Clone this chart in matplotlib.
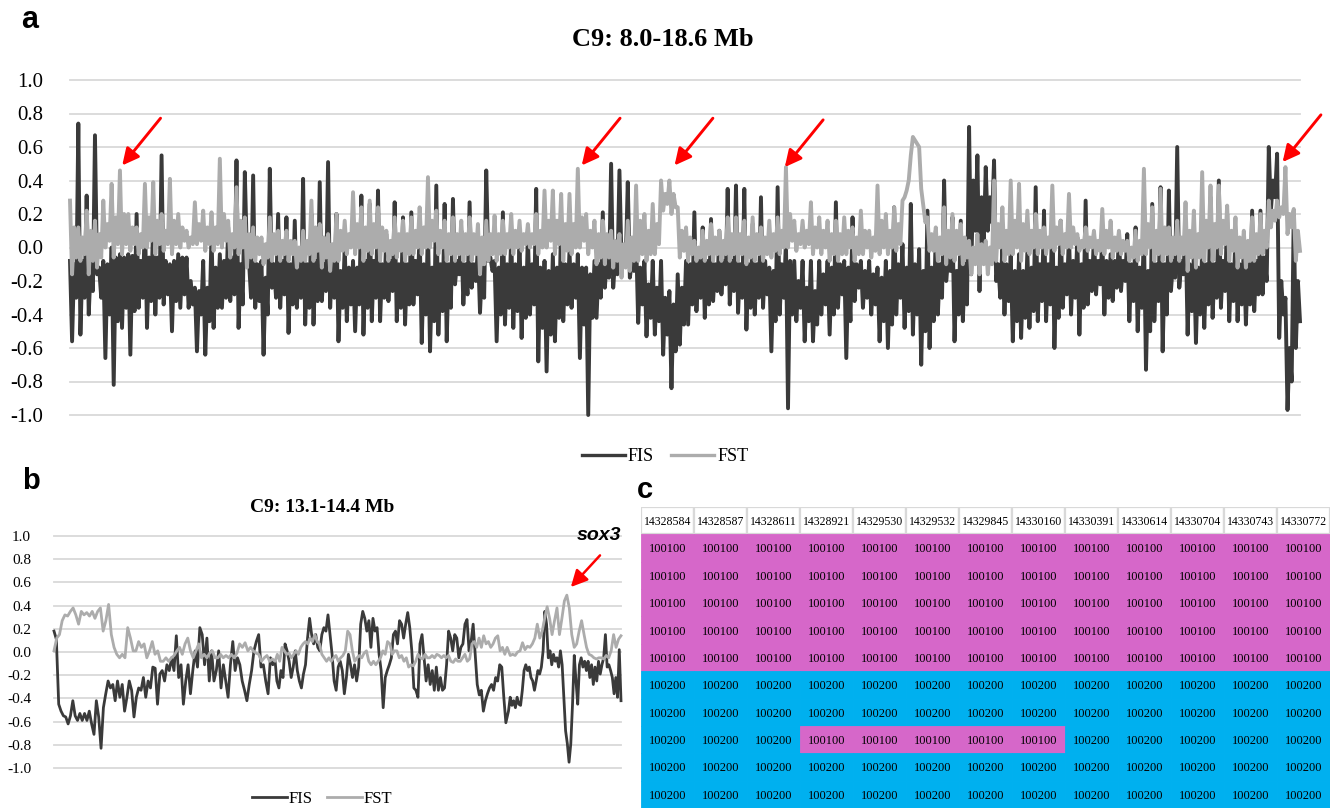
import numpy as np
import matplotlib
matplotlib.use("Agg")
import matplotlib.pyplot as plt
from matplotlib.patches import Rectangle
from matplotlib.lines import Line2D

# ---------------- Panel a data (C9: 8.0-18.6 Mb) ----------------
# per window (left to right): spike maximum, spike minimum, and the top / bottom
# of the dense band the trace fills inside that window
a_region = (8.0, 18.6)
a_fis_hi = [
    -0.08, 0.74, 0.31, 0.67, -0.08, 0.00, -0.04, -0.04, 0.20, 0.18, 0.18, 0.55, -0.10, -0.04, -0.06, -0.24,
    -0.08, 0.08, -0.04, 0.12, 0.52, 0.45, 0.43, -0.08, 0.47, 0.20, 0.18, 0.16, 0.41, 0.20, 0.39, 0.51,
    0.20, 0.00, -0.08, 0.31, 0.26,
    0.34, 0.08, 0.27, 0.18, 0.21, 0.10, 0.12, 0.37, 0.26, 0.29, 0.10, 0.27, 0.00, 0.46, -0.08, 0.21,
    0.08, 0.04, 0.08, 0.35, -0.08, -0.04, 0.16, -0.02, -0.04, -0.12, -0.08, 0.21, 0.50, 0.46, 0.39, 0.06,
    -0.08, -0.08, -0.08, -0.26, -0.16,
    -0.08, 0.21, 0.12, 0.17, 0.10, 0.35, 0.37, 0.35, 0.14, 0.30, -0.12, 0.36, 0.04, -0.08, -0.08, -0.08,
    -0.08, -0.08, 0.27, -0.08, 0.18, -0.08, -0.08, -0.12, -0.08, 0.24, 0.02, 0.26, -0.01, 0.22, 0.10, 0.40,
    0.18, 0.16, 0.72, 0.55, 0.48,
    0.52, 0.00, -0.04, -0.04, -0.02, 0.36, 0.22, 0.22, 0.16, 0.08, 0.06, 0.28, 0.08, 0.06, -0.04, 0.08,
    0.08, 0.12, 0.10, 0.26, 0.36, 0.34, 0.60, 0.14, -0.04, 0.00, 0.30, 0.40, 0.20, 0.10, 0.00, 0.22,
    0.22, 0.60, 0.56, -0.30, 0.22,
]
a_fis_lo = [
    -0.56, -0.52, -0.40, -0.16, -0.66, -0.82, -0.48, -0.64, -0.36, -0.48, -0.40, -0.34, -0.50, -0.36, -0.36, -0.62,
    -0.64, -0.48, -0.36, -0.32, -0.48, -0.04, -0.36, -0.64, -0.24, -0.36, -0.51, -0.36, -0.46, -0.46, -0.32, -0.36,
    -0.56, -0.44, -0.50, -0.52, -0.44,
    -0.44, -0.32, -0.44, -0.46, -0.34, -0.57, -0.62, -0.52, -0.56, -0.22, -0.34, -0.24, -0.39, -0.08, -0.56, -0.46,
    -0.48, -0.54, -0.40, -0.68, -0.74, -0.56, -0.44, -0.36, -0.66, -1.00, -0.42, -0.24, -0.24, -0.08, -0.18, -0.45,
    -0.53, -0.52, -0.64, -0.84, -0.58,
    -0.46, -0.38, -0.42, -0.32, -0.28, -0.34, -0.39, -0.49, -0.40, -0.36, -0.62, -0.40, -0.96, -0.44, -0.56, -0.56,
    -0.40, -0.52, -0.36, -0.66, -0.32, -0.36, -0.40, -0.56, -0.60, -0.40, -0.48, -0.52, -0.70, -0.60, -0.40, -0.20,
    -0.56, -0.44, -0.16, -0.26, 0.10,
    -0.20, -0.40, -0.56, -0.54, -0.48, -0.44, -0.44, -0.60, -0.36, -0.40, -0.52, -0.34, -0.28, -0.40, -0.32, -0.26,
    -0.44, -0.50, -0.73, -0.44, -0.62, -0.26, -0.24, -0.52, -0.57, -0.48, -0.42, -0.36, -0.44, -0.44, -0.46, -0.38,
    -0.28, 0.22, -0.54, -0.97, -0.60,
]
a_fis_top = [
    -0.10, -0.08, -0.10, -0.12, -0.10, -0.06, -0.06, -0.05, -0.08, -0.06, -0.06, -0.08, -0.08, -0.06, -0.20, -0.26,
    -0.24, -0.12, -0.08, -0.06, -0.10, -0.08, -0.10, -0.18, -0.10, -0.08, -0.10, -0.08, -0.10, -0.08, -0.10, -0.08,
    -0.14, -0.12, -0.12, -0.08, -0.08,
    -0.10, -0.08, -0.10, -0.10, -0.08, -0.10, -0.12, -0.10, -0.10, -0.08, -0.10, -0.10, -0.12, -0.06, -0.12, -0.10,
    -0.10, -0.12, -0.10, -0.12, -0.14, -0.12, -0.10, -0.10, -0.12, -0.16, -0.10, -0.06, -0.06, -0.06, -0.08, -0.12,
    -0.22, -0.24, -0.30, -0.34, -0.24,
    -0.10, -0.08, -0.08, -0.10, -0.08, -0.08, -0.10, -0.10, -0.10, -0.08, -0.14, -0.10, -0.08, -0.20, -0.24, -0.26,
    -0.16, -0.12, -0.10, -0.12, -0.10, -0.14, -0.16, -0.18, -0.14, -0.10, -0.12, -0.10, -0.14, -0.12, -0.10, -0.06,
    -0.14, -0.10, 0.40, 0.30, 0.30,
    -0.10, -0.10, -0.14, -0.14, -0.12, -0.10, -0.10, -0.12, -0.10, -0.08, -0.10, -0.08, -0.08, -0.08, -0.08, -0.08,
    -0.10, -0.12, -0.14, -0.10, -0.10, -0.08, -0.08, -0.10, -0.12, -0.10, -0.10, -0.08, -0.10, -0.10, -0.10, -0.08,
    -0.06, 0.40, -0.20, -0.60, -0.20,
]
a_fis_bot = [
    -0.30, -0.30, -0.26, -0.30, -0.40, -0.44, -0.36, -0.38, -0.30, -0.32, -0.30, -0.28, -0.32, -0.28, -0.34, -0.40,
    -0.44, -0.36, -0.30, -0.28, -0.34, -0.30, -0.32, -0.40, -0.30, -0.28, -0.34, -0.30, -0.36, -0.32, -0.26, -0.30,
    -0.36, -0.34, -0.34, -0.36, -0.30,
    -0.30, -0.26, -0.36, -0.34, -0.28, -0.40, -0.44, -0.38, -0.36, -0.16, -0.28, -0.20, -0.30, -0.14, -0.40, -0.36,
    -0.38, -0.42, -0.34, -0.48, -0.52, -0.42, -0.34, -0.30, -0.46, -0.42, -0.30, -0.18, -0.16, -0.10, -0.14, -0.34,
    -0.42, -0.44, -0.52, -0.62, -0.46,
    -0.34, -0.30, -0.34, -0.26, -0.22, -0.26, -0.30, -0.36, -0.30, -0.28, -0.44, -0.30, -0.40, -0.36, -0.44, -0.46,
    -0.34, -0.40, -0.28, -0.44, -0.24, -0.30, -0.34, -0.44, -0.46, -0.30, -0.38, -0.40, -0.50, -0.44, -0.30, -0.14,
    -0.40, -0.34, 0.10, 0.00, 0.15,
    -0.30, -0.32, -0.44, -0.42, -0.38, -0.32, -0.34, -0.42, -0.28, -0.30, -0.36, -0.26, -0.22, -0.30, -0.24, -0.20,
    -0.32, -0.36, -0.50, -0.32, -0.40, -0.18, -0.16, -0.38, -0.40, -0.34, -0.30, -0.26, -0.32, -0.34, -0.34, -0.28,
    -0.20, 0.30, -0.40, -0.80, -0.44,
]
a_fst_hi = [
    0.28, 0.12, 0.22, 0.16, 0.28, 0.38, 0.46, 0.20, 0.12, 0.38, 0.39, 0.20, 0.41, 0.20, 0.10, 0.27,
    0.22, 0.21, 0.53, 0.16, 0.36, 0.18, 0.12, 0.06, 0.18, 0.10, 0.10, 0.04, 0.10, 0.28, 0.14, 0.08,
    0.20, 0.16, 0.33, 0.24, 0.28,
    0.24, 0.10, 0.18, 0.16, 0.18, 0.24, 0.42, 0.22, 0.16, 0.18, 0.16, 0.18, 0.14, 0.16, 0.19, 0.16,
    0.20, 0.16, 0.14, 0.20, 0.34, 0.34, 0.32, 0.32, 0.47, 0.20, 0.16, 0.16, 0.10, 0.08, 0.16, 0.37,
    0.20, 0.26, 0.40, 0.40, 0.24,
    0.12, 0.04, 0.10, 0.14, 0.10, 0.18, 0.18, 0.16, 0.18, 0.12, 0.16, 0.18, 0.48, 0.16, 0.16, 0.27,
    0.18, 0.16, 0.16, 0.18, 0.12, 0.22, 0.10, 0.37, 0.20, 0.24, 0.28, 0.55, 0.60, 0.18, 0.12, 0.24,
    0.20, 0.14, 0.04, 0.08, 0.04,
    0.40, 0.24, 0.40, 0.38, 0.22, 0.20, 0.12, 0.37, 0.16, 0.32, 0.08, 0.12, 0.10, 0.23, 0.16, 0.10,
    0.04, 0.10, 0.47, 0.24, 0.35, 0.12, 0.16, 0.27, 0.22, 0.45, 0.37, 0.37, 0.25, 0.18, 0.10, 0.18,
    0.20, 0.28, 0.28, 0.48, 0.23,
]
a_fst_lo = [
    -0.16, -0.08, -0.16, -0.12, 0.00, -0.06, -0.04, -0.02, -0.04, 0.00, -0.04, -0.02, -0.04, 0.00, 0.00, 0.02,
    -0.02, -0.02, 0.00, -0.06, -0.04, -0.12, -0.08, -0.10, -0.08, -0.08, -0.08, -0.12, -0.08, -0.08, -0.12, -0.14,
    -0.08, -0.04, -0.04, -0.08, -0.04,
    -0.08, -0.08, -0.06, -0.08, -0.04, -0.04, 0.00, -0.04, -0.08, -0.08, -0.08, -0.08, -0.16, -0.08, -0.08, -0.04,
    -0.04, -0.02, 0.00, -0.04, 0.00, -0.04, -0.08, -0.04, 0.00, -0.04, -0.10, -0.10, -0.12, -0.18, -0.14, -0.08,
    -0.08, -0.04, 0.22, 0.20, -0.06,
    -0.08, -0.08, -0.08, -0.08, -0.08, -0.08, -0.08, -0.10, -0.08, -0.08, -0.06, -0.04, 0.00, -0.02, 0.00, -0.04,
    -0.04, -0.08, -0.08, -0.04, -0.08, -0.04, -0.06, -0.04, -0.04, -0.02, 0.30, 0.66, 0.35, -0.02, -0.08, -0.10,
    -0.08, -0.10, -0.16, -0.16, -0.16,
    -0.08, -0.08, -0.04, -0.08, -0.04, -0.04, -0.04, -0.02, -0.04, 0.00, -0.02, -0.02, -0.04, -0.04, -0.06, -0.04,
    -0.08, -0.08, -0.04, -0.08, -0.08, -0.08, -0.08, -0.14, -0.12, -0.08, -0.08, -0.04, -0.08, -0.12, -0.12, -0.08,
    -0.04, 0.12, 0.18, 0.08, -0.08,
]
a_fst_top = [
    0.12, 0.06, 0.10, 0.08, 0.14, 0.18, 0.20, 0.12, 0.08, 0.18, 0.16, 0.10, 0.16, 0.12, 0.06, 0.14,
    0.12, 0.12, 0.20, 0.08, 0.16, 0.08, 0.06, 0.02, 0.08, 0.04, 0.04, 0.00, 0.04, 0.12, 0.06, 0.02,
    0.10, 0.08, 0.14, 0.12, 0.14,
    0.12, 0.04, 0.08, 0.08, 0.10, 0.12, 0.16, 0.10, 0.08, 0.08, 0.08, 0.08, 0.06, 0.08, 0.08, 0.08,
    0.10, 0.08, 0.08, 0.10, 0.16, 0.16, 0.14, 0.14, 0.18, 0.10, 0.08, 0.08, 0.04, 0.02, 0.06, 0.16,
    0.10, 0.14, 0.32, 0.32, 0.10,
    0.06, 0.00, 0.04, 0.06, 0.04, 0.08, 0.08, 0.06, 0.08, 0.06, 0.08, 0.10, 0.20, 0.08, 0.10, 0.12,
    0.10, 0.08, 0.08, 0.10, 0.06, 0.10, 0.06, 0.16, 0.10, 0.14, 0.34, 0.64, 0.25, 0.08, 0.06, 0.10,
    0.10, 0.06, 0.00, 0.02, 0.00,
    0.14, 0.10, 0.16, 0.14, 0.10, 0.10, 0.06, 0.12, 0.08, 0.12, 0.04, 0.06, 0.04, 0.10, 0.06, 0.04,
    0.00, 0.04, 0.14, 0.10, 0.12, 0.06, 0.06, 0.10, 0.08, 0.16, 0.14, 0.16, 0.10, 0.06, 0.04, 0.08,
    0.10, 0.22, 0.24, 0.20, 0.10,
]
a_fst_bot = [
    -0.06, -0.04, -0.08, -0.06, 0.04, 0.02, 0.02, 0.02, 0.00, 0.04, 0.02, 0.02, 0.02, 0.04, 0.02, 0.04,
    0.02, 0.02, 0.04, 0.00, 0.00, -0.06, -0.04, -0.06, -0.04, -0.04, -0.04, -0.08, -0.04, -0.02, -0.06, -0.08,
    -0.02, 0.00, 0.00, -0.02, 0.00,
    -0.02, -0.04, -0.02, -0.04, 0.00, 0.00, 0.04, 0.00, -0.04, -0.04, -0.04, -0.04, -0.10, -0.04, -0.04, 0.00,
    0.00, 0.02, 0.02, 0.00, 0.04, 0.02, -0.02, 0.00, 0.04, 0.00, -0.06, -0.06, -0.08, -0.12, -0.08, -0.04,
    -0.04, 0.02, 0.26, 0.24, -0.02,
    -0.04, -0.06, -0.04, -0.04, -0.04, -0.04, -0.04, -0.06, -0.04, -0.04, -0.02, 0.00, 0.04, 0.02, 0.02, 0.00,
    0.00, -0.04, -0.04, 0.00, -0.04, 0.00, -0.02, 0.00, 0.00, 0.02, 0.40, 0.62, 0.15, -0.02, -0.04, -0.06,
    -0.04, -0.06, -0.10, -0.10, -0.10,
    0.00, -0.04, 0.00, -0.02, 0.00, 0.00, 0.00, 0.02, 0.00, 0.02, 0.00, 0.00, -0.02, 0.00, -0.02, -0.02,
    -0.06, -0.04, 0.00, -0.04, -0.04, -0.04, -0.04, -0.06, -0.06, 0.00, 0.00, 0.02, -0.02, -0.06, -0.08, -0.04,
    0.00, 0.16, 0.20, 0.12, -0.02,
]
a_arrow_mb = [8.45, 12.41, 13.21, 14.16, 18.45]
a_arrow_val = [0.49, 0.49, 0.49, 0.48, 0.51]

# ---------------- Panel b data (C9: 13.1-14.4 Mb) ----------------
b_region = (13.1, 14.4)
b_fis_parts = [
    [0.18, 0.11, -0.45, -0.51, -0.55, -0.56, -0.62, -0.55, -0.42, -0.55, -0.59, -0.53, -0.59,
     -0.53, -0.59, -0.51, -0.62, -0.71, -0.42, -0.56, -0.83, -0.48, -0.36, -0.25, -0.31, -0.28,
     -0.42, -0.25, -0.39, -0.28, -0.51, -0.39, -0.25, -0.33, -0.56, -0.39, -0.31, -0.33, -0.22,
     -0.39, -0.25, -0.31, -0.13, -0.14, -0.45, -0.19, -0.16, -0.25, -0.11, -0.16, -0.05, -0.16,
     0.14, -0.22, -0.11, -0.45, -0.25, -0.11, -0.36, -0.16, 0.01, -0.13, 0.21, 0.15, -0.11, 0.12,
     -0.25, 0.01, -0.25, -0.16, 0.01, -0.31, -0.11, -0.25, -0.39, -0.11, 0.09, -0.16, -0.05,
     -0.11, -0.25, -0.33, -0.42, -0.28, -0.16, 0.01, 0.09, 0.15, -0.13, -0.11, -0.25, -0.36,
     -0.05, -0.11, -0.08],
    [-0.25, -0.31, -0.16, -0.22, 0.07, 0.01, -0.08, -0.22, -0.13, 0.01, -0.16, -0.25, -0.31,
     -0.19, -0.11, 0.12, 0.29, 0.15, 0.07, 0.15, 0.04, 0.01, 0.15, 0.21, 0.18, 0.32, 0.15, -0.02,
     -0.25, -0.33, -0.13, -0.08, -0.16, -0.36, -0.22, -0.02, -0.11, -0.22, -0.11, -0.25, -0.13,
     0.24, 0.35, 0.29, 0.18, 0.27, 0.04, 0.29, 0.18, 0.21, -0.02, -0.16, -0.48, -0.22, -0.16,
     -0.11, -0.05, 0.15, 0.18, 0.07, 0.27, 0.24, 0.12, 0.24, 0.34, 0.21, 0.01, -0.31, -0.33,
     -0.39, 0.07, 0.15, -0.05, -0.25, -0.11, -0.28, -0.16, -0.33, -0.13, -0.33, -0.22, -0.33,
     -0.31, -0.11, 0.18, 0.12, 0.01, 0.15, 0.12, -0.05, 0.04, 0.07, 0.24, 0.28, 0.01, 0.09, 0.24,
     -0.02, -0.28, -0.37, -0.33, -0.51, -0.42, -0.36, -0.31, -0.28, -0.33, -0.22, -0.25, -0.11,
     -0.13, -0.39, -0.61],
    [-0.51, -0.39, -0.46, -0.42, -0.48, -0.39, -0.45, -0.46, -0.33, -0.16, -0.11, -0.16, -0.13,
     -0.22, -0.25, -0.33, -0.25, -0.16, -0.19, -0.13, 0.01, 0.35, 0.24, -0.05, 0.01, -0.11,
     -0.02, -0.08, -0.05, -0.13, 0.01, -0.11, -0.39, -0.68, -0.79, -0.95, -0.79, -0.45, -0.03,
     -0.25, -0.45, -0.11, -0.05, -0.13, -0.08, -0.16, -0.08, -0.22, -0.11, -0.28, -0.13, -0.25,
     -0.08, -0.19, -0.11, -0.05, 0.15, -0.13, -0.11, -0.16, -0.22, -0.36, -0.22, -0.39, 0.02,
     -0.42],
]
b_fis_bounds = [(13.100, 13.607), (13.611, 14.136), (14.142, 14.400)]
b_fst_parts = [
    [0.01, 0.12, 0.15, 0.27, 0.32, 0.31, 0.35, 0.38, 0.32, 0.24, 0.35, 0.32, 0.34, 0.31, 0.35,
     0.29, 0.35, 0.38, 0.18, 0.27, 0.41, 0.15, 0.04, -0.02, -0.05, -0.02, -0.05, 0.21, 0.12,
     0.01, 0.01, 0.09, 0.04, 0.07, -0.05, 0.01, 0.09, -0.02, 0.01, -0.08, -0.08, -0.05, -0.08,
     -0.05, -0.03, 0.01, 0.04, -0.02, 0.07, 0.12, 0.01, -0.05, 0.01, 0.07, -0.05, -0.02, -0.05,
     -0.01, 0.01, -0.05, -0.05, -0.02, -0.05, -0.03, -0.05, -0.02, -0.05, -0.01, 0.07, 0.04,
     0.08, 0.01, 0.04, 0.01, -0.01, -0.02, -0.08, -0.05, -0.03, -0.08, -0.06, -0.08],
    [-0.02, -0.08, 0.04, 0.01, -0.02, -0.01, -0.05, -0.02, 0.01, -0.02, 0.04, 0.07, 0.09, 0.07,
     0.12, 0.09, 0.15, 0.09, 0.07, -0.02, -0.05, -0.08, -0.05, -0.08, -0.05, -0.03, -0.08,
     -0.05, -0.03, 0.01, 0.18, 0.15, 0.01, -0.08, -0.05, -0.03, -0.05, -0.01, 0.01, -0.08,
     -0.11, -0.08, -0.11, -0.08, -0.05, 0.01, -0.02, 0.09, 0.07, -0.02, 0.01, 0.01, -0.05,
     -0.03, -0.08, -0.05, -0.13, -0.11, -0.12, -0.08, -0.02, -0.05, -0.06, -0.02, -0.05, -0.05,
     -0.03, -0.05, -0.02, -0.03, -0.05, -0.03, -0.05, -0.03, -0.08, -0.09, -0.06, -0.08, -0.08,
     -0.05, -0.02, -0.08, -0.06, 0.07, 0.09, 0.04, 0.12, 0.04, 0.14, 0.07, 0.09, 0.04, 0.07,
     0.12, 0.14, 0.01, 0.04, -0.02, 0.04],
    [-0.03, -0.02, -0.03, 0.00, 0.01, 0.08, 0.02, 0.05, 0.04, 0.07, 0.12, 0.24, 0.12, 0.18,
     0.29, 0.39, 0.29, 0.15, 0.27, 0.38, 0.15, 0.29, 0.44, 0.49, 0.38, 0.15, 0.04, 0.07, 0.18,
     0.27, 0.15, 0.04, -0.02, -0.03, -0.05, -0.06, -0.05, -0.05, -0.06, -0.03, -0.05, 0.01,
     0.15, 0.04, 0.11, 0.14],
]
b_fst_bounds = [(13.100, 13.607), (13.612, 14.139), (14.146, 14.400)]
sox3_mb = 14.285
sox3_val = 0.56

# ---------------- Panel c data ----------------
snp_positions = [14328584, 14328587, 14328611, 14328921, 14329530, 14329532, 14329845,
                 14330160, 14330391, 14330614, 14330704, 14330743, 14330772]
genotype_rows = (
    [["100100"] * 13] * 5
    + [["100200"] * 13] * 2
    + [["100200"] * 3 + ["100100"] * 5 + ["100200"] * 5]
    + [["100200"] * 13] * 2
)

# ---------------- styling ----------------
DARK = "#3a3a3a"
LIGHT = "#acacac"
GRID = "#d9d9d9"
PINK = "#d667c9"
BLUE = "#00b0ef"
SERIF = ["Liberation Serif", "DejaVu Serif"]
SANS = ["Liberation Sans", "DejaVu Sans"]

plt.rcParams["font.family"] = SERIF

W, H = 1333, 808
fig = plt.figure(figsize=(W / 100, H / 100), dpi=100)


def fx(px):
    return px / W


def fy(py):
    return 1 - py / H


yticks = [-1.0, -0.8, -0.6, -0.4, -0.2, 0.0, 0.2, 0.4, 0.6, 0.8, 1.0]


def style_axes(ax, tick_size, pad):
    ax.set_ylim(-1, 1)
    ax.set_yticks(yticks)
    ax.set_yticklabels([f"{v:.1f}" for v in yticks], fontsize=tick_size)
    ax.tick_params(axis="y", length=0, pad=pad)
    ax.set_xticks([])
    for s in ax.spines.values():
        s.set_visible(False)
    ax.yaxis.grid(True, color=GRID, lw=1.3)
    ax.set_axisbelow(True)
    for gl in ax.get_ygridlines():
        gl.set_clip_on(False)


def window_trace(hi, lo, top, bot):
    return np.column_stack([hi, lo, top, bot]).ravel()


# ---------------- Panel a ----------------
axa = fig.add_axes([fx(70), fy(415), fx(1300 - 70), (415 - 80) / H])
fis_a = window_trace(a_fis_hi, a_fis_lo, a_fis_top, a_fis_bot)
fst_a = window_trace(a_fst_hi, a_fst_lo, a_fst_top, a_fst_bot)
axa.plot(np.linspace(*a_region, len(fis_a)), fis_a, color=DARK, lw=2.8,
         solid_joinstyle="round", clip_on=False)
axa.plot(np.linspace(*a_region, len(fst_a)), fst_a, color=LIGHT, lw=2.8,
         solid_joinstyle="round", clip_on=False)
axa.set_xlim(*a_region)
style_axes(axa, 15, 19.5)

arrow_props = dict(arrowstyle="-|>,head_length=1.0,head_width=0.5", color="#ff0000",
                   lw=2.1, shrinkA=0, shrinkB=0, mutation_scale=10)
for mb, v in zip(a_arrow_mb, a_arrow_val):
    axa.annotate("", xy=(mb, v), xytext=(27.6, 34), textcoords="offset points",
                 arrowprops=arrow_props, annotation_clip=False)

fig.text(fx(663), fy(39), "C9: 8.0-18.6 Mb", ha="center", va="center",
         fontsize=19, fontweight="bold")
fig.text(fx(30), fy(20), "a", ha="center", va="center", fontsize=22,
         fontweight="bold", family=SANS)

handles_a = [Line2D([], [], color=DARK, lw=2.4), Line2D([], [], color=LIGHT, lw=2.4)]
axa.legend(handles_a, ["FIS", "FST"], ncol=2, frameon=False, loc="center",
           bbox_to_anchor=(fx(665), fy(457)), bbox_transform=fig.transFigure,
           fontsize=13, handlelength=2.4, handletextpad=0.15, columnspacing=0.95)

# ---------------- Panel b ----------------
axb = fig.add_axes([fx(54), fy(768), fx(621 - 54), (768 - 536) / H])
for parts, bounds, col in ((b_fis_parts, b_fis_bounds, DARK), (b_fst_parts, b_fst_bounds, LIGHT)):
    xs = np.concatenate([np.linspace(b0, b1, len(p)) for p, (b0, b1) in zip(parts, bounds)])
    ys = np.concatenate([np.asarray(p) for p in parts])
    axb.plot(xs, ys, color=col, lw=2.0, solid_joinstyle="round", clip_on=False)
axb.set_xlim(*b_region)
style_axes(axb, 11, 16.5)

axb.annotate("", xy=(sox3_mb, sox3_val), xytext=(21, 22.8), textcoords="offset points",
             arrowprops=dict(arrowstyle="-|>,head_length=1.0,head_width=0.5",
                             color="#ff0000", lw=1.8, shrinkA=0, shrinkB=0,
                             mutation_scale=10), annotation_clip=False)
fig.text(fx(599), fy(536), "sox3", ha="center", va="center", fontsize=14,
         fontweight="bold", fontstyle="italic", family=SANS)
fig.text(fx(322), fy(507), "C9: 13.1-14.4 Mb", ha="center", va="center",
         fontsize=14, fontweight="bold")
fig.text(fx(31), fy(481), "b", ha="center", va="center", fontsize=21,
         fontweight="bold", family=SANS)

handles_b = [Line2D([], [], color=DARK, lw=2.0), Line2D([], [], color=LIGHT, lw=2.0)]
axb.legend(handles_b, ["FIS", "FST"], ncol=2, frameon=False, loc="center",
           bbox_to_anchor=(fx(322), fy(799)), bbox_transform=fig.transFigure,
           fontsize=12, handlelength=2.1, handletextpad=0.05, columnspacing=0.9)

# ---------------- Panel c ----------------
fig.text(fx(645), fy(490), "c", ha="center", va="center", fontsize=21,
         fontweight="bold", family=SANS)
axc = fig.add_axes([fx(641), 0, fx(1330 - 641), (808 - 507) / H])
ncol = len(snp_positions)
nrow = len(genotype_rows) + 1
axc.set_xlim(0, ncol)
axc.set_ylim(nrow, 0)
axc.axis("off")
for j, pos in enumerate(snp_positions):
    axc.add_patch(Rectangle((j, 0), 1, 1, facecolor="white", edgecolor=GRID, lw=1.6))
    axc.text(j + 0.5, 0.55, str(pos), ha="center", va="center", fontsize=8.5)
for i, row in enumerate(genotype_rows):
    for j, g in enumerate(row):
        col = PINK if g == "100100" else BLUE
        axc.add_patch(Rectangle((j, i + 1), 1, 1, facecolor=col, edgecolor=col, lw=0.6))
        axc.text(j + 0.5, i + 1.55, g, ha="center", va="center", fontsize=9)

fig.savefig("out.png", dpi=100)
